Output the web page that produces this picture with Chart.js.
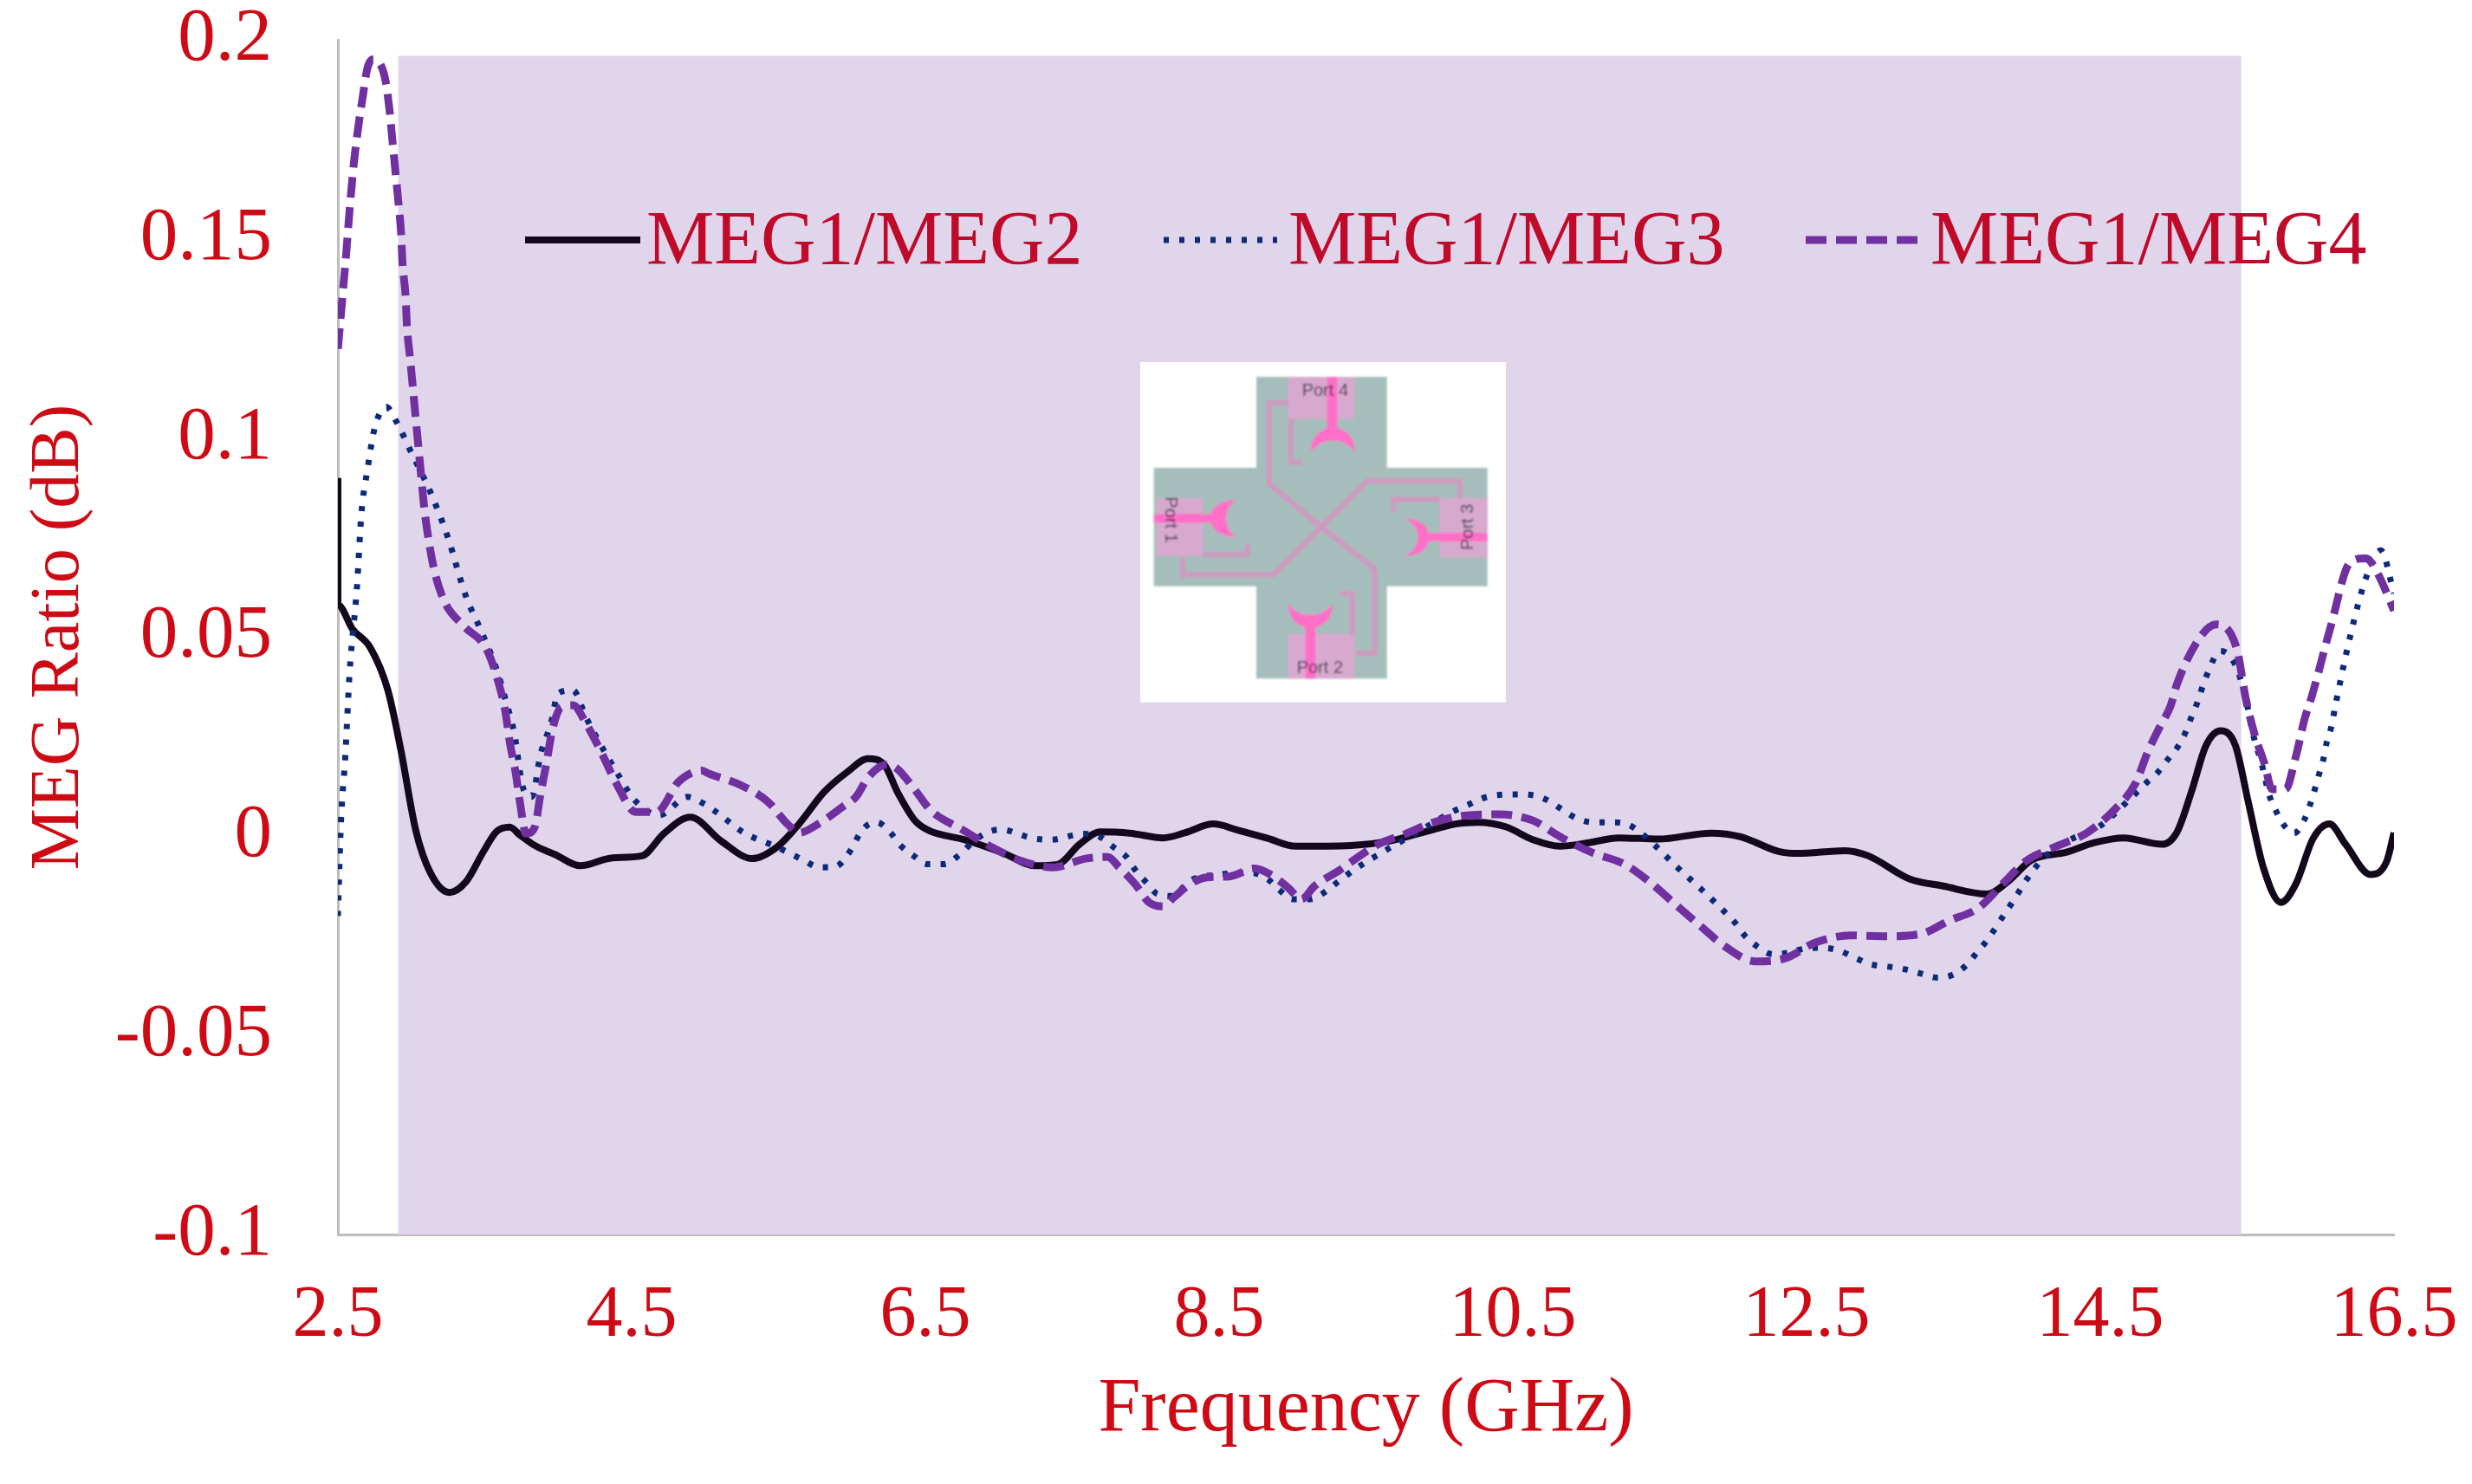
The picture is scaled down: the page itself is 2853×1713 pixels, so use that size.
<!DOCTYPE html>
<html>
<head>
<meta charset="utf-8">
<title>MEG Ratio</title>
<script src="https://cdn.jsdelivr.net/npm/chart.js@4"></script>
<style>
    html, body { margin: 0; padding: 0; background: #fff; overflow: hidden; }
    #wrap { position: relative; width: 2853px; height: 1713px; }
    #inset { position: absolute; left: 1280px; top: 400px; width: 480px; height: 440px; }
</style>
</head>
<body>
<div id="wrap">
<canvas id="chart" width="2853" height="1713"></canvas>
<!-- layout inset, drawn in 3x crop units -->
<svg id="inset" viewBox="0 0 1440 1320">
    <defs><filter id="soft"><feGaussianBlur stdDeviation="2.5"/></filter></defs>
    <rect x="108" y="54" width="1266" height="1178" fill="#fff"/>
    <g filter="url(#soft)">
        <path d="M510 105H962V420H1310V830H962V1150H510V830H155V420H510Z" fill="#A5BEBB"/>
        <g fill="#D8A9CF">
            <rect x="620" y="105" width="230" height="145"/>
            <rect x="165" y="525" width="160" height="200"/>
            <rect x="1145" y="525" width="165" height="205"/>
            <rect x="620" y="995" width="230" height="155"/>
            <rect x="715" y="605" width="40" height="40"/>
        </g>
        <g fill="none" stroke="#CC9BC0" stroke-width="20">
            <polyline points="620,195 555,195 555,475 735,625"/>
            <polyline points="630,250 630,400 670,400"/>
            <polyline points="1215,525 1215,465 895,465 735,625"/>
            <polyline points="1145,530 985,530 985,572"/>
            <polyline points="855,1062 920,1062 920,770 735,625"/>
            <polyline points="842,1000 842,855 800,855"/>
            <polyline points="255,730 255,790 570,790 735,625"/>
            <polyline points="325,720 480,720 480,685"/>
        </g>
        <g fill="#FF6EC7">
            <rect x="755" y="105" width="35" height="190"/>
            <path d="M698 365C700 252 850 252 852 365C810 312 740 312 698 365Z"/>
            <rect x="155" y="580" width="215" height="30"/>
            <path d="M442 530C319 532 319 658 442 660C393 630 393 560 442 530Z"/>
            <rect x="1090" y="645" width="220" height="30"/>
            <path d="M1022 595C1139 597 1139 725 1022 727C1086 695 1086 627 1022 595Z"/>
            <rect x="680" y="950" width="35" height="200"/>
            <path d="M620 890C622 1003 773 1003 775 890C735 943 660 943 620 890Z"/>
        </g>
        <g fill="#3E3248" font-family="Liberation Sans" font-size="60" text-anchor="middle">
            <text x="748" y="170">Port 4</text>
            <text x="730" y="1132">Port 2</text>
            <text transform="translate(195,600) rotate(90)">Port 1</text>
            <text transform="translate(1260,625) rotate(-90)">Port 3</text>
        </g>
    </g>
</svg>
</div>
<script>
var seriesNames = ['MEG1/MEG2', 'MEG1/MEG3', 'MEG1/MEG4'];
var xTickValues = [2.5, 4.5, 6.5, 8.5, 10.5, 12.5, 14.5, 16.5];
var yTickValues = [-0.1, -0.05, 0, 0.05, 0.1, 0.15, 0.2];

// shaded band, in axis units
var bandStart = 2.91;
var bandEnd = 15.46;
var bandTop = 0.196;

var meg2Freq = [2.5, 2.5, 2.6, 2.72, 2.84, 2.93, 3.03, 3.13, 3.26, 3.37, 3.49, 3.58, 3.67, 3.74, 3.84, 3.98, 4.15, 4.37, 4.57, 4.72, 4.9, 5.11, 5.32, 5.49, 5.64, 5.81, 5.97, 6.11, 6.22, 6.31, 6.43, 6.52, 6.77, 7.03, 7.25, 7.4, 7.55, 7.69, 7.89, 8.12, 8.27, 8.46, 8.63, 8.83, 9.02, 9.4, 9.66, 9.92, 10.11, 10.26, 10.45, 10.64, 10.82, 11.02, 11.22, 11.49, 11.85, 12.05, 12.31, 12.44, 12.76, 12.92, 13.2, 13.43, 13.73, 13.87, 14.03, 14.27, 14.46, 14.66, 14.92, 15.02, 15.12, 15.22, 15.32, 15.42, 15.51, 15.61, 15.73, 15.83, 15.95, 16.06, 16.17, 16.34, 16.45, 16.5];
var meg2Vals = [0.09, 0.0581, 0.052, 0.0474, 0.0367, 0.0214, 0.0015, -0.0092, -0.0141, -0.0115, -0.0039, 0.0012, 0.0023, 0.0003, -0.0023, -0.0046, -0.0074, -0.0054, -0.0049, 0.0007, 0.0048, -0.0012, -0.0056, -0.0027, 0.0031, 0.0111, 0.0162, 0.0195, 0.018, 0.0111, 0.0039, 0.0015, -0.0009, -0.0042, -0.0074, -0.0071, -0.002, 0.0011, 0.0008, -0.0004, 0.0009, 0.0031, 0.0015, -0.0005, -0.0025, -0.0023, -0.0012, 0.0013, 0.0031, 0.0035, 0.0024, -0.0009, -0.0025, -0.0016, -0.0004, -0.0007, 0.0008, -0.0001, -0.0038, -0.0043, -0.0036, -0.0049, -0.0107, -0.0125, -0.0145, -0.0114, -0.006, -0.004, -0.0016, -0.0004, -0.002, 0.0009, 0.0111, 0.0228, 0.0265, 0.0228, 0.0082, -0.0078, -0.0166, -0.0121, -0.0005, 0.0031, -0.002, -0.0096, -0.0063, 0.0009];

var meg3Freq = [2.5, 2.52, 2.55, 2.58, 2.63, 2.66, 2.7, 2.75, 2.83, 2.9, 2.99, 3.13, 3.25, 3.37, 3.47, 3.58, 3.64, 3.7, 3.76, 3.82, 3.88, 3.95, 4.0, 4.1, 4.19, 4.29, 4.4, 4.52, 4.69, 4.88, 4.99, 5.08, 5.26, 5.49, 5.67, 5.78, 5.89, 5.97, 6.08, 6.17, 6.26, 6.33, 6.42, 6.51, 6.63, 6.73, 6.81, 6.9, 7.01, 7.23, 7.35, 7.57, 7.69, 7.78, 7.87, 7.93, 8.01, 8.08, 8.19, 8.29, 8.5, 8.72, 8.83, 8.91, 9.0, 9.12, 9.22, 9.31, 9.4, 9.49, 9.59, 9.69, 9.85, 10.08, 10.19, 10.29, 10.41, 10.53, 10.64, 10.75, 10.84, 10.94, 11.05, 11.17, 11.28, 11.37, 11.46, 11.54, 11.62, 11.7, 11.78, 11.86, 11.94, 12.02, 12.08, 12.17, 12.27, 12.38, 12.5, 12.61, 12.72, 12.83, 12.93, 13.05, 13.17, 13.28, 13.39, 13.5, 13.59, 13.66, 13.73, 13.79, 13.85, 13.91, 13.97, 14.03, 14.1, 14.19, 14.28, 14.49, 14.72, 14.81, 14.89, 14.96, 15.03, 15.08, 15.12, 15.16, 15.22, 15.32, 15.42, 15.49, 15.54, 15.6, 15.65, 15.69, 15.74, 15.82, 15.89, 15.93, 15.96, 15.99, 16.02, 16.04, 16.07, 16.09, 16.11, 16.2, 16.31, 16.41, 16.5];
var meg3Vals = [-0.02, 0.003, 0.02, 0.0413, 0.0627, 0.0811, 0.0918, 0.1025, 0.1078, 0.104, 0.0971, 0.0864, 0.0749, 0.0604, 0.052, 0.042, 0.0344, 0.026, 0.0122, 0.0099, 0.0206, 0.0283, 0.0359, 0.0367, 0.0298, 0.0229, 0.016, 0.0091, 0.0053, 0.0099, 0.0082, 0.006, 0.001, -0.0027, -0.006, -0.0078, -0.0076, -0.0047, 0.002, 0.0035, 0.001, -0.0023, -0.0049, -0.007, -0.007, -0.0047, -0.0019, 0.0006, 0.0017, -0.0005, -0.0009, 0.0006, -0.0002, -0.0027, -0.0052, -0.0085, -0.0118, -0.0145, -0.015, -0.0114, -0.0096, -0.0092, -0.0107, -0.0135, -0.0158, -0.0158, -0.014, -0.0114, -0.0089, -0.0067, -0.0045, -0.0023, 0.001, 0.006, 0.0078, 0.0095, 0.0104, 0.0105, 0.0103, 0.0088, 0.0066, 0.0044, 0.0035, 0.0035, 0.003, 0.0009, -0.002, -0.0049, -0.0078, -0.0105, -0.0132, -0.016, -0.0189, -0.022, -0.025, -0.0278, -0.0296, -0.0292, -0.0281, -0.028, -0.0287, -0.0305, -0.0321, -0.0327, -0.0334, -0.0345, -0.0355, -0.0347, -0.0323, -0.0292, -0.0261, -0.0228, -0.0194, -0.0161, -0.0125, -0.0092, -0.006, -0.0031, -0.0011, 0.0024, 0.01, 0.0133, 0.016, 0.0193, 0.0226, 0.0261, 0.0299, 0.0335, 0.04, 0.0465, 0.043, 0.0347, 0.0257, 0.018, 0.0104, 0.0069, 0.0033, 0.0008, 0.0042, 0.0081, 0.0117, 0.0156, 0.0195, 0.0233, 0.027, 0.0307, 0.0345, 0.05, 0.065, 0.0718, 0.061];

var meg4Freq = [2.5, 2.53, 2.56, 2.58, 2.61, 2.64, 2.67, 2.7, 2.74, 2.82, 2.85, 2.87, 2.89, 2.91, 2.93, 2.94, 2.96, 2.97, 2.99, 3.01, 3.03, 3.05, 3.07, 3.09, 3.12, 3.16, 3.23, 3.36, 3.51, 3.59, 3.64, 3.67, 3.71, 3.74, 3.78, 3.84, 3.88, 3.92, 3.96, 4.02, 4.1, 4.19, 4.3, 4.39, 4.53, 4.67, 4.82, 4.98, 5.02, 5.24, 5.43, 5.56, 5.64, 5.77, 5.94, 6.03, 6.11, 6.24, 6.31, 6.41, 6.54, 6.75, 6.95, 7.14, 7.37, 7.59, 7.74, 7.82, 7.93, 8.02, 8.12, 8.19, 8.31, 8.42, 8.57, 8.74, 8.85, 8.97, 9.06, 9.15, 9.32, 9.49, 9.59, 9.77, 9.96, 10.17, 10.41, 10.64, 10.79, 10.86, 11.04, 11.26, 11.43, 11.61, 11.77, 11.95, 12.15, 12.35, 12.56, 12.8, 13.04, 13.28, 13.47, 13.67, 13.85, 13.99, 14.19, 14.41, 14.6, 14.74, 14.82, 14.9, 14.98, 15.02, 15.18, 15.29, 15.43, 15.49, 15.55, 15.62, 15.67, 15.76, 15.83, 15.89, 15.94, 16.07, 16.2, 16.31, 16.39, 16.5];
var meg4Vals = [0.1224, 0.135, 0.148, 0.1575, 0.1695, 0.1785, 0.1859, 0.1928, 0.1951, 0.1905, 0.1828, 0.1752, 0.1675, 0.1599, 0.1515, 0.1438, 0.1361, 0.1282, 0.1205, 0.1129, 0.1048, 0.0971, 0.0892, 0.0817, 0.0739, 0.0662, 0.0586, 0.0527, 0.0471, 0.039, 0.0313, 0.0237, 0.016, 0.0084, 0.0007, 0.0023, 0.0107, 0.0183, 0.0267, 0.0324, 0.0329, 0.0283, 0.0206, 0.0137, 0.0061, 0.0061, 0.0137, 0.0165, 0.0158, 0.0129, 0.0086, 0.0031, 0.0009, 0.0031, 0.0075, 0.01, 0.0148, 0.018, 0.0169, 0.0126, 0.0064, 0.0017, -0.0027, -0.006, -0.0078, -0.0056, -0.0052, -0.0078, -0.0121, -0.0165, -0.0176, -0.0154, -0.0118, -0.0103, -0.0101, -0.0081, -0.0096, -0.0129, -0.0158, -0.0125, -0.0085, -0.0041, -0.0019, 0.0006, 0.0035, 0.0052, 0.0055, 0.0039, 0.0006, -0.0009, -0.0041, -0.007, -0.0114, -0.0172, -0.0223, -0.0278, -0.0314, -0.0307, -0.0267, -0.0249, -0.0251, -0.0245, -0.0212, -0.018, -0.0114, -0.0063, -0.0027, 0.0009, 0.0068, 0.0133, 0.0209, 0.0271, 0.0329, 0.038, 0.05, 0.0532, 0.047, 0.0347, 0.0257, 0.018, 0.0118, 0.0118, 0.0198, 0.0293, 0.0351, 0.0528, 0.0687, 0.0698, 0.0659, 0.0567];

var serif = 'Liberation Serif';
var tickRed = '#CE0A14';
var legendRed = '#C00A2A';
var axisGray = '#BDBDBD';

function toPoints(xs, ys) {
    var pts = [];
    for (let i = 0; i < xs.length; i++) {
        pts.push({ x: xs[i], y: ys[i] });
    }
    return pts;
}

var bandPlugin = {
    id: 'band',
    beforeDatasetsDraw: function (chart) {
        var x = chart.scales.x, y = chart.scales.y, ctx = chart.ctx;
        ctx.save();
        ctx.fillStyle = '#E1D5EC';
        ctx.fillRect(x.getPixelForValue(bandStart), y.getPixelForValue(bandTop),
            x.getPixelForValue(bandEnd) - x.getPixelForValue(bandStart),
            y.getPixelForValue(-0.1) - y.getPixelForValue(bandTop));
        ctx.restore();
    }
};

// legend sits in one row inside the plot, the built in one leaves too wide a gap
var legendRow = [
    { from: 606, to: 739, text: 746 },
    { from: 1343, to: 1474, text: 1487 },
    { from: 2084, to: 2220, text: 2228 }
];
var rowPlugin = {
    id: 'legendRow',
    afterDatasetsDraw: function (chart) {
        var ctx = chart.ctx;
        ctx.save();
        chart.data.datasets.forEach(function (d, i) {
            var r = legendRow[i];
            ctx.strokeStyle = d.borderColor;
            ctx.lineWidth = d.borderWidth;
            ctx.setLineDash(d.borderDash || []);
            ctx.beginPath();
            ctx.moveTo(r.from, 277);
            ctx.lineTo(r.to, 277);
            ctx.stroke();
            ctx.fillStyle = legendRed;
            ctx.font = '88px "' + serif + '"';
            ctx.textBaseline = 'middle';
            ctx.fillText(d.label, r.text, 281);
        });
        ctx.restore();
    }
};

new Chart(document.getElementById('chart').getContext('2d'), {
    type: 'line',
    plugins: [bandPlugin, rowPlugin],
    data: {
        datasets: [{
            label: seriesNames[0],
            data: toPoints(meg2Freq, meg2Vals),
            borderColor: '#14081C',
            borderWidth: 8,
            order: 2
        }, {
            label: seriesNames[1],
            data: toPoints(meg3Freq, meg3Vals),
            borderColor: '#0C2A78',
            borderWidth: 7,
            borderDash: [6, 12],
            order: 1
        }, {
            label: seriesNames[2],
            data: toPoints(meg4Freq, meg4Vals),
            borderColor: '#7030A0',
            borderWidth: 9,
            borderDash: [24, 11],
            order: 0
        }]
    },
    options: {
        responsive: false,
        animation: false,
        devicePixelRatio: 1,
        layout: { padding: { top: 46, right: 90, left: 0, bottom: 0 } },
        elements: {
            point: { radius: 0 },
            line: { cubicInterpolationMode: 'monotone' }
        },
        plugins: {
            legend: { display: false },
            tooltip: { enabled: false }
        },
        scales: {
            x: {
                type: 'linear',
                min: 2.5,
                max: 16.5,
                afterBuildTicks: function (axis) {
                    axis.ticks = xTickValues.map(function (v) { return { value: v }; });
                },
                afterFit: function (axis) {
                    axis.height = 288;
                    axis.paddingLeft = 0;
                    axis.paddingRight = 0;
                },
                grid: { display: false, drawTicks: false },
                border: { color: axisGray, width: 3 },
                ticks: {
                    color: tickRed,
                    font: { family: serif, size: 84 },
                    padding: 45,
                    maxRotation: 0,
                    autoSkip: false,
                    callback: function (v) { return String(v); }
                },
                title: {
                    display: true,
                    text: 'Frequency (GHz)',
                    color: tickRed,
                    font: { family: serif, size: 88 },
                    padding: { top: 0, bottom: 32 }
                }
            },
            y: {
                type: 'linear',
                min: -0.1,
                max: 0.2,
                afterBuildTicks: function (axis) {
                    axis.ticks = yTickValues.map(function (v) { return { value: v }; });
                },
                afterFit: function (axis) {
                    axis.width = 390;
                    axis.paddingTop = 0;
                    axis.paddingBottom = 0;
                },
                grid: { display: false, drawTicks: false },
                border: { color: axisGray, width: 3 },
                ticks: {
                    color: tickRed,
                    font: { family: serif, size: 87 },
                    padding: 76,
                    autoSkip: false,
                    callback: function (v) { return String(v); }
                },
                title: {
                    display: true,
                    text: 'MEG Ratio (dB)',
                    color: tickRed,
                    font: { family: serif, size: 80 },
                    padding: { top: 21, bottom: 0 }
                }
            }
        }
    }
});
</script>
</body>
</html>
